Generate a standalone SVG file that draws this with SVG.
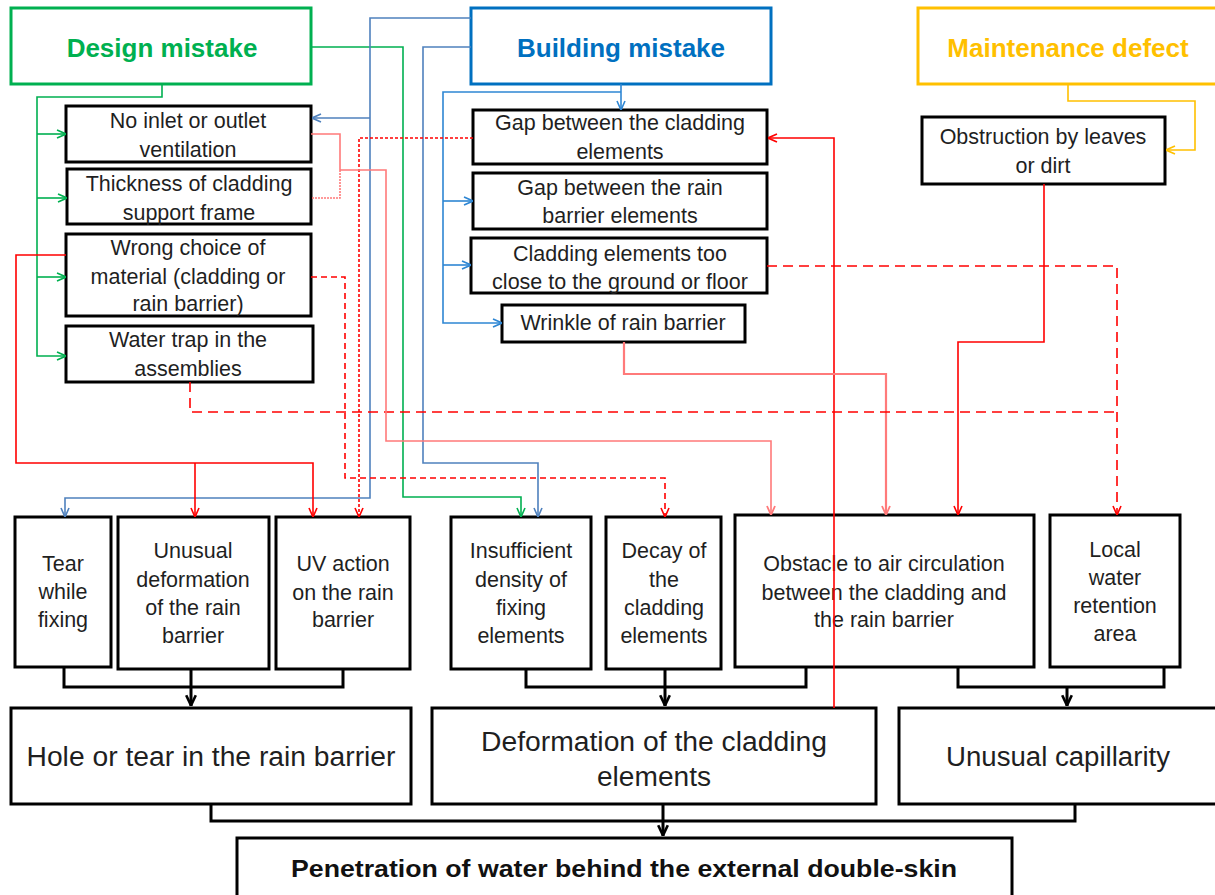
<svg xmlns="http://www.w3.org/2000/svg" width="1215" height="895" viewBox="0 0 1215 895">
<style>
  .box{fill:#fff;stroke:#000;stroke-width:3}
  .t{font-family:"Liberation Sans",Arial,sans-serif;font-size:21.5px;fill:#1f1f1f;text-anchor:middle}
  .big{font-size:27px}
  .title{font-family:"Liberation Sans",Arial,sans-serif;font-size:26px;font-weight:bold;text-anchor:middle}
  .c{fill:none;stroke-width:1.6}
  .blk{fill:none;stroke:#000;stroke-width:3}
  .g{stroke:#00B050}
  .b1{stroke:#4F81BD}
  .b2{stroke:#2E86D3}
  .y{stroke:#FFC000}
  .r{stroke:#FF0000}
  .p{stroke:#FF7A7A}
</style>
<defs>
  <marker id="ag" viewBox="0 0 10 10" refX="10" refY="5" markerWidth="10" markerHeight="10" markerUnits="userSpaceOnUse" orient="auto"><path d="M1,1 L10,5 L1,9" fill="none" stroke="#00B050" stroke-width="1.6"/></marker>
  <marker id="ab1" viewBox="0 0 10 10" refX="10" refY="5" markerWidth="10" markerHeight="10" markerUnits="userSpaceOnUse" orient="auto"><path d="M1,1 L10,5 L1,9" fill="none" stroke="#4F81BD" stroke-width="1.6"/></marker>
  <marker id="ab2" viewBox="0 0 10 10" refX="10" refY="5" markerWidth="10" markerHeight="10" markerUnits="userSpaceOnUse" orient="auto"><path d="M1,1 L10,5 L1,9" fill="none" stroke="#2E86D3" stroke-width="1.6"/></marker>
  <marker id="ay" viewBox="0 0 10 10" refX="10" refY="5" markerWidth="10" markerHeight="10" markerUnits="userSpaceOnUse" orient="auto"><path d="M1,1 L10,5 L1,9" fill="none" stroke="#FFC000" stroke-width="1.6"/></marker>
  <marker id="ar" viewBox="0 0 10 10" refX="10" refY="5" markerWidth="10" markerHeight="10" markerUnits="userSpaceOnUse" orient="auto"><path d="M1,1 L10,5 L1,9" fill="none" stroke="#FF0000" stroke-width="1.6"/></marker>
  <marker id="ap" viewBox="0 0 10 10" refX="10" refY="5" markerWidth="10" markerHeight="10" markerUnits="userSpaceOnUse" orient="auto"><path d="M1,1 L10,5 L1,9" fill="none" stroke="#FF7A7A" stroke-width="1.8"/></marker>
  <marker id="ak" viewBox="0 0 10 10" refX="10" refY="5" markerWidth="12" markerHeight="12" markerUnits="userSpaceOnUse" orient="auto"><path d="M1,1 L9.5,5 L1,9" fill="none" stroke="#000" stroke-width="2.2"/></marker>
</defs>

<g id="design-mistake"><rect x="11" y="8" width="300" height="76" fill="#fff" stroke="#00B050" stroke-width="3"/><text class="title" x="162" y="57" fill="#00B050">Design mistake</text></g>
<g id="building-mistake"><rect x="471" y="8" width="300" height="76" fill="#fff" stroke="#0070C0" stroke-width="3"/><text class="title" x="621" y="57" fill="#0070C0">Building mistake</text></g>
<g id="maintenance-defect"><rect x="918" y="8" width="310" height="76" fill="#fff" stroke="#FFC000" stroke-width="3"/><text class="title" x="1068" y="57" fill="#FFC000">Maintenance defect</text></g>

<g id="no-inlet"><rect class="box" x="66" y="106" width="245" height="56"/><text class="t" x="188" y="128">No inlet or outlet</text><text class="t" x="188" y="157">ventilation</text></g>
<g id="thickness"><rect class="box" x="67" y="169" width="244" height="55"/><text class="t" x="189" y="191">Thickness of cladding</text><text class="t" x="189" y="220">support frame</text></g>
<g id="wrong-choice"><rect class="box" x="66" y="234" width="245" height="82"/><text class="t" x="188" y="255">Wrong choice of</text><text class="t" x="188" y="284">material (cladding or</text><text class="t" x="188" y="311">rain barrier)</text></g>
<g id="water-trap"><rect class="box" x="66" y="326" width="247" height="56"/><text class="t" x="188" y="347">Water trap in the</text><text class="t" x="188" y="376">assemblies</text></g>

<g id="gap-cladding"><rect class="box" x="473" y="110" width="294" height="54"/><text class="t" x="620" y="130">Gap between the cladding</text><text class="t" x="620" y="159">elements</text></g>
<g id="gap-rain"><rect class="box" x="473" y="173" width="294" height="56"/><text class="t" x="620" y="195">Gap between the rain</text><text class="t" x="620" y="223">barrier elements</text></g>
<g id="too-close"><rect class="box" x="471" y="238" width="296" height="55"/><text class="t" x="620" y="261">Cladding elements too</text><text class="t" x="620" y="289">close to the ground or floor</text></g>
<g id="wrinkle"><rect class="box" x="502" y="305" width="243" height="37"/><text class="t" x="623" y="330">Wrinkle of rain barrier</text></g>

<g id="obstruction"><rect class="box" x="922" y="117" width="243" height="67"/><text class="t" x="1043" y="144">Obstruction by leaves</text><text class="t" x="1043" y="173">or dirt</text></g>

<g id="tear"><rect class="box" x="15" y="517" width="96" height="150"/><text class="t" x="63" y="571">Tear</text><text class="t" x="63" y="599">while</text><text class="t" x="63" y="627">fixing</text></g>
<g id="unusual-deformation"><rect class="box" x="118" y="517" width="151" height="152"/><text class="t" x="193" y="558">Unusual</text><text class="t" x="193" y="587">deformation</text><text class="t" x="193" y="615">of the rain</text><text class="t" x="193" y="643">barrier</text></g>
<g id="uv-action"><rect class="box" x="276" y="517" width="134" height="152"/><text class="t" x="343" y="571">UV action</text><text class="t" x="343" y="600">on the rain</text><text class="t" x="343" y="627">barrier</text></g>
<g id="insufficient-density"><rect class="box" x="451" y="517" width="140" height="152"/><text class="t" x="521" y="558">Insufficient</text><text class="t" x="521" y="587">density of</text><text class="t" x="521" y="615">fixing</text><text class="t" x="521" y="643">elements</text></g>
<g id="decay"><rect class="box" x="606" y="517" width="115" height="152"/><text class="t" x="664" y="558">Decay of</text><text class="t" x="664" y="587">the</text><text class="t" x="664" y="615">cladding</text><text class="t" x="664" y="643">elements</text></g>
<g id="obstacle"><rect class="box" x="735" y="515" width="299" height="152"/><text class="t" x="884" y="571">Obstacle to air circulation</text><text class="t" x="884" y="600">between the cladding and</text><text class="t" x="884" y="627">the rain barrier</text></g>
<g id="local-water"><rect class="box" x="1050" y="515" width="130" height="152"/><text class="t" x="1115" y="557">Local</text><text class="t" x="1115" y="585">water</text><text class="t" x="1115" y="613">retention</text><text class="t" x="1115" y="641">area</text></g>

<g id="hole-tear"><rect class="box" x="11" y="708" width="400" height="96"/><text class="t big" x="211" y="766" textLength="369" lengthAdjust="spacingAndGlyphs">Hole or tear in the rain barrier</text></g>
<g id="deformation-cladding"><rect class="box" x="432" y="708" width="444" height="96"/><text class="t big" x="654" y="751" textLength="346" lengthAdjust="spacingAndGlyphs">Deformation of the cladding</text><text class="t big" x="654" y="786" textLength="114" lengthAdjust="spacingAndGlyphs">elements</text></g>
<g id="unusual-capillarity"><rect class="box" x="899" y="708" width="330" height="96"/><text class="t big" x="1058" y="766" textLength="224" lengthAdjust="spacingAndGlyphs">Unusual capillarity</text></g>
<g id="penetration"><rect class="box" x="237" y="838" width="775" height="70"/><text class="title" x="624" y="877" fill="#111" style="font-size:24px" textLength="666" lengthAdjust="spacingAndGlyphs">Penetration of water behind the external double-skin</text></g>

<g id="connectors">
  <path class="blk" d="M64,667 V687 H343 V669 M191,669 V687"/>
  <path class="blk" d="M191,687 V706" marker-end="url(#ak)"/>
  <path class="blk" d="M526,669 V687 H806 V667 M665,669 V687"/>
  <path class="blk" d="M665,687 V706" marker-end="url(#ak)"/>
  <path class="blk" d="M958,667 V687 H1164 V667"/>
  <path class="blk" d="M1067,687 V706" marker-end="url(#ak)"/>
  <path class="blk" d="M211,804 V821 H1075 V804 M663,804 V821"/>
  <path class="blk" d="M663,821 V836" marker-end="url(#ak)"/>

  <path class="c g" d="M162,84 V97 H37 V356 H66" marker-end="url(#ag)"/>
  <path class="c g" d="M37,134 H66" marker-end="url(#ag)"/>
  <path class="c g" d="M37,198 H67" marker-end="url(#ag)"/>
  <path class="c g" d="M37,277 H66" marker-end="url(#ag)"/>
  <path class="c g" d="M311,47 H403 V497 H521 V517" marker-end="url(#ag)"/>

  <path class="c b1" d="M471,18 H370 V498 H65 V517" marker-end="url(#ab1)"/>
  <path class="c b1" d="M370,118 H312" marker-end="url(#ab1)"/>
  <path class="c b1" d="M471,47 H423 V463 H538 V517" marker-end="url(#ab1)"/>
  <path class="c b2" d="M621,84 V110" marker-end="url(#ab2)"/>
  <path class="c b2" d="M621,92 H443 V323 H502" marker-end="url(#ab2)"/>
  <path class="c b2" d="M443,201 H473" marker-end="url(#ab2)"/>
  <path class="c b2" d="M443,265 H471" marker-end="url(#ab2)"/>

  <path class="c y" d="M1068,84 V101 H1195 V150 H1166" marker-end="url(#ay)"/>

  <path class="c r" d="M1044,184 V342 H958 V515" marker-end="url(#ar)"/>
  <path class="c r" d="M834,708 V138 H768" marker-end="url(#ar)"/>
  <path class="c p" style="stroke-width:2.2" d="M624,342 V374 H886 V515" marker-end="url(#ap)"/>
  <path class="c r" stroke-dasharray="10,6" d="M767,266 H1117 V515" marker-end="url(#ar)"/>
  <path class="c r" stroke-dasharray="10,6" d="M190,382 V412 H1117"/>
  <path class="c r" stroke-dasharray="6,4" d="M311,277 H345 V478 H665 V517" marker-end="url(#ar)"/>
  <path class="c r" stroke-dasharray="3,2" d="M473,138 H359 V517" marker-end="url(#ar)"/>
  <path class="c r" d="M66,255 H16 V463 H313 V517" marker-end="url(#ar)"/>
  <path class="c r" d="M195,463 V517" marker-end="url(#ar)"/>
  <path class="c p" d="M311,134 H340 V170"/>
  <path class="c p" stroke-dasharray="2,1" d="M340,170 V198 H311"/>
  <path class="c p" d="M340,170 H386 V441 H771 V515" marker-end="url(#ap)"/>
</g>
</svg>
